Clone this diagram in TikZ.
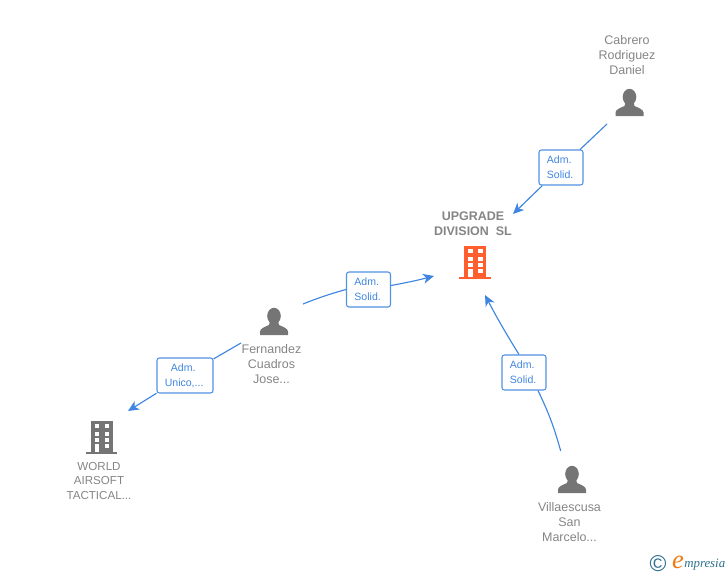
\documentclass[tikz,border=0pt]{standalone}
\usepackage{fontspec}
\setmainfont{Liberation Sans}
\newfontfamily\logofont{Liberation Serif}
\usepackage{xcolor}
\usetikzlibrary{arrows.meta,positioning,calc}
\definecolor{linkblue}{HTML}{3F86E0}
\definecolor{namegray}{HTML}{858585}
\definecolor{icongray}{HTML}{757575}
\definecolor{firmorange}{HTML}{FF5F2E}
\definecolor{logoteal}{HTML}{2F6F8F}
\definecolor{logoorange}{HTML}{F07A10}
\tikzset{
  rolebox/.style={draw=linkblue!90, line width=0.6pt, rounded corners=1.4pt, fill=white, text=linkblue, minimum height=35*0.02cm, inner sep=0pt, align=center, font=\fontsize{6}{8.5}\selectfont},
  namelabel/.style={text=namegray, align=center, inner sep=0pt, font=\fontsize{7.1}{8.5}\selectfont},
  link/.style={linkblue, line width=0.65pt},
  linkarrow/.style={link, -{Stealth[length=6.2pt, width=5.6pt, inset=1.8pt]}},
  pics/persona/.style={code={
    \fill[icongray] (-14,0) -- (-14,-3.5) .. controls (-13.5,-7) and (-9,-8) .. (-5,-10) -- (-4,-14) -- (4,-14) -- (5,-10) .. controls (9,-8) and (13.5,-7) .. (14,-3.5) -- (14,0) -- cycle;
    \fill[icongray] (0,-19) ellipse [x radius=6.8, y radius=8.2];
  }},
  pics/firm/.style={code={
    \fill[#1] (-15.7,0) rectangle (15.7,-2.6);
    \fill[#1] (-11,-1) rectangle (11,-33.3);
    \foreach \rowtop/\rowbot in {-30/-26,-22.6/-18.6,-16/-12.6} {
      \fill[white] (-7,\rowtop) rectangle (-2.3,\rowbot);
      \fill[white] (3,\rowtop) rectangle (7.7,\rowbot);
    }
    \fill[white] (-7,-10) rectangle (-2.3,-2.4);
    \fill[white] (3,-10) rectangle (7.7,-6.6);
  }}
}
\begin{document}
\begin{tikzpicture}[x=0.02cm, y=-0.02cm]
\useasboundingbox (0,0) rectangle (728,575);
% icons
\pic at (629.5,116) {persona};
\pic at (274,335) {persona};
\pic at (572,493) {persona};
\pic at (475,279.3) {firm=firmorange};
\pic at (101.5,454.3) {firm=icongray};
% names
\node[namelabel] (cabrero) at (627,55) {Cabrero\\Rodriguez\\Daniel};
\node[namelabel] (fernandez) at (271.5,364) {Fernandez\\Cuadros\\Jose...};
\node[namelabel] (villaescusa) at (569.5,522) {Villaescusa\\San\\Marcelo...};
\node[namelabel, font=\fontsize{7.1}{8.5}\selectfont\bfseries] (upgrade) at (473,224) {UPGRADE\\DIVISION\ \ SL};
\node[namelabel, font=\fontsize{6.6}{8.5}\selectfont] (world) at (99,481) {WORLD\\AIRSOFT\\TACTICAL...};
% role boxes
\node[rolebox, minimum width=44*0.02cm] (roleA) at (561,167.5) {Adm.\hspace*{2pt}\\Solid.\hspace*{1pt}};
\node[rolebox, minimum width=44*0.02cm] (roleB) at (368.5,289.5) {Adm.\hspace*{2pt}\\Solid.\hspace*{1pt}};
\node[rolebox, minimum width=56*0.02cm] (roleC) at (185,375.5) {Adm.\hspace*{2pt}\\Unico,...\hspace*{1pt}};
\node[rolebox, minimum width=44*0.02cm] (roleD) at (524,372.5) {Adm.\hspace*{2pt}\\Solid.\hspace*{1pt}};
% free ends
\coordinate (cabreroEnd) at (607,124);
\coordinate (upgradeTipA) at (513,214);
\coordinate (fernandezEndB) at (303,304);
\coordinate (upgradeTipB) at (434,276);
\coordinate (fernandezEndC) at (241,343);
\coordinate (worldTip) at (128,411);
\coordinate (villaEnd) at (560.7,451);
\coordinate (upgradeTipD) at (485,295);
% links
\draw[link] (cabreroEnd) -- (roleA);
\draw[linkarrow] (roleA) -- (upgradeTipA);
\draw[link] (fernandezEndB) to[bend left=3] (roleB.west);
\draw[linkarrow] ($(roleB.east)+(0,-4)$) to[bend right=2] (upgradeTipB);
\draw[link] (fernandezEndC) -- (roleC);
\draw[linkarrow] (roleC) -- (worldTip);
\draw[link] (villaEnd) to[bend right=5] ($(roleD.south)+(14,0)$);
\draw[linkarrow] ($(roleD.north)+(-5,0)$) to[bend left=2] (upgradeTipD);
% logo
\node[text=logoteal, inner sep=0pt, font=\fontsize{13}{13}\selectfont] (logoC) at (658,564) {©};
\node[text=logoorange, inner sep=0pt, font=\fontsize{15}{15}\logofont\itshape] (logoE) at (678,562.5) {e};
\node[text=logoteal, inner sep=0pt, anchor=base west, font=\fontsize{7.3}{8}\logofont\itshape] (logoText) at (684,567.5) {mpresia};
\end{tikzpicture}
\end{document}
